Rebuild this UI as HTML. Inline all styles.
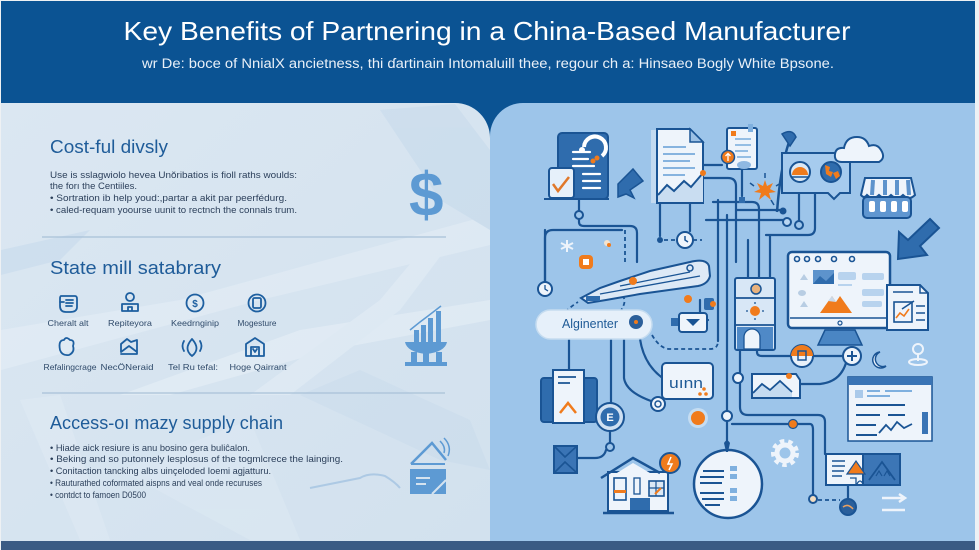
<!DOCTYPE html>
<html><head><meta charset="utf-8"><style>
html,body{margin:0;padding:0;background:#eef1f4;}
svg{display:block;}
text{font-family:"Liberation Sans",sans-serif;}
</style></head><body>
<svg width="979" height="550" viewBox="0 0 979 550" xmlns="http://www.w3.org/2000/svg">
<defs>
<linearGradient id="lg" x1="0" y1="0" x2="1" y2="1">
<stop offset="0" stop-color="#dbe7f2"/><stop offset="1" stop-color="#d2e1ee"/>
</linearGradient>
</defs>
<rect width="979" height="550" fill="#eef1f4"/>
<rect x="1" y="1" width="974" height="200" fill="#0b5393"/>
<!-- panels -->
<path d="M1,103 H455 A35,35 0 0 1 490,138 V541 H1 Z" fill="url(#lg)"/>
<path d="M490,541 V136 A33,33 0 0 1 523,103 H975 V541 Z" fill="#9dc5ea"/>
<rect x="1" y="541" width="974" height="9" fill="#3a5b84"/>

<!-- left panel texture -->
<g opacity="0.35">
<polygon points="1,330 180,300 490,215 490,245 260,300 1,370" fill="#eef5fb"/>
<polygon points="120,395 300,330 490,300 490,320 330,350 170,395" fill="#f3f8fc"/>
<polygon points="250,395 380,300 430,240 445,250 400,310 290,395" fill="#eef5fb"/>
<polygon points="380,110 455,104 490,150 490,230 440,200" fill="#bcd3e9"/>
<polygon points="1,250 90,230 60,260 1,275" fill="#bcd3e9"/>
<polygon points="300,395 360,370 470,420 490,470 440,460" fill="#c4d8eb"/>
<polygon points="20,400 60,395 110,540 80,540" fill="#e6eff7"/>
<polygon points="120,470 250,420 300,540 250,540" fill="#e3edf6"/>
</g>

<!-- header text -->
<text x="487" y="40" font-size="26" fill="#ffffff" text-anchor="middle" textLength="727" lengthAdjust="spacingAndGlyphs">Key Benefits of Partnering in a China-Based Manufacturer</text>
<text x="488" y="68" font-size="13.5" fill="#e9f0f8" text-anchor="middle" textLength="692" lengthAdjust="spacingAndGlyphs">wr De: boce of NnialX ancietness, thi ɗartinain Intomaluill thee, regour ch a: Hinsaeo Bogly White Bpsone.</text>

<!-- Section 1 -->
<text x="50" y="153" font-size="18" fill="#1f5c99" textLength="118" lengthAdjust="spacingAndGlyphs">Cost-ful divsly</text>
<g font-size="9.5" fill="#2b3f5a">
<text x="50" y="178" textLength="247" lengthAdjust="spacingAndGlyphs">Use is sslagwiolo hevea Unŏribatios is fioll raths woulds:</text>
<text x="50" y="189" textLength="87" lengthAdjust="spacingAndGlyphs">the forı the Centiiles.</text>
<text x="50" y="201" textLength="237" lengthAdjust="spacingAndGlyphs">• Sortration ib help youd:,partar a akit par peerfédurg.</text>
<text x="50" y="213" textLength="247" lengthAdjust="spacingAndGlyphs">• caled-requam yoourse uunit to rectnch the connals trum.</text>
</g>
<text x="409" y="216" font-size="62" font-weight="bold" fill="#5d9ad3">$</text>
<line x1="42" y1="237" x2="446" y2="237" stroke="#a9c1d8" stroke-width="1.2"/>

<!-- Section 2 -->
<text x="50" y="274" font-size="18" fill="#1f5c99" textLength="171" lengthAdjust="spacingAndGlyphs">State mill satabrary</text>
<g fill="none" stroke="#1d5fa0" stroke-width="1.8" stroke-linecap="round" stroke-linejoin="round">
<path d="M61,296 H75 Q77,296 77,299 V307 Q77,312 70,312 H66 Q60,312 60,306 V299 Q60,296 61,296 Z"/>
<path d="M66,300 H73 M66,303 H73 M66,306 H72 M60,302 H64"/>
<circle cx="130" cy="297" r="4"/>
<path d="M122,311 V304 H138 V311 Z M128,311 V307 H132 V311"/>
<circle cx="195" cy="303" r="8.5"/>
<circle cx="257" cy="303" r="8.5"/>
<rect x="253" y="298" width="8" height="10" rx="1.5"/>
<path d="M60,350 Q58,340 64,340 Q66,336 70,340 Q75,340 73,346 Q75,352 69,355 Q62,356 60,350 Z"/>
<path d="M121,352 V344 L127,339 L131,342 L137,340 V354 H121 M121,352 L129,346 L137,352"/>
<path d="M192,339 Q201,349 192,356 Q183,349 192,339 Z M184,341 Q181,346 184,351 M200,341 Q203,346 200,351"/>
<path d="M246,356 V344 L255,338 L264,344 V356 Z M251,356 V347 H259 V356 M253,349 L255,352 L257,349"/>
</g>
<text x="195" y="307" font-size="10" font-weight="bold" fill="#1d5fa0" text-anchor="middle">$</text>
<g font-size="8.5" fill="#2f4a6a" text-anchor="middle">
<text x="68" y="326" textLength="41" lengthAdjust="spacingAndGlyphs">Cheralt alt</text>
<text x="130" y="326" textLength="44" lengthAdjust="spacingAndGlyphs">Repiteyora</text>
<text x="195" y="326" textLength="48" lengthAdjust="spacingAndGlyphs">Keedrnginip</text>
<text x="257" y="326" textLength="39" lengthAdjust="spacingAndGlyphs">Mogesture</text>
<text x="70" y="370" textLength="53" lengthAdjust="spacingAndGlyphs">Refalingcrage</text>
<text x="127" y="370" textLength="53" lengthAdjust="spacingAndGlyphs">NecÖNeraid</text>
<text x="193" y="370" textLength="50" lengthAdjust="spacingAndGlyphs">Tel Ru tefal:</text>
<text x="258" y="370" textLength="57" lengthAdjust="spacingAndGlyphs">Hoge Qairrant</text>
</g>
<g fill="#5d9ad3">
<rect x="414" y="330" width="5" height="12"/>
<rect x="421" y="325" width="5" height="17"/>
<rect x="428" y="318" width="5" height="24"/>
<rect x="436" y="311" width="5" height="31"/>
<path d="M405,342 H447 Q445,352 426,354 Q407,352 405,342 Z"/>
<rect x="411" y="352" width="6" height="11"/>
<rect x="423" y="352" width="6" height="11"/>
<rect x="436" y="352" width="6" height="11"/>
<rect x="405" y="362" width="42" height="4"/>
</g>
<polyline points="410,330 420,322 428,316 441,306" fill="none" stroke="#5d9ad3" stroke-width="1.5"/>
<line x1="42" y1="393" x2="445" y2="393" stroke="#a9c1d8" stroke-width="1.2"/>

<!-- Section 3 -->
<text x="50" y="429" font-size="18" fill="#1f5c99" textLength="233" lengthAdjust="spacingAndGlyphs">Access-oı mazy supply chain</text>
<g font-size="9.5" fill="#2b3f5a">
<text x="50" y="451" textLength="200" lengthAdjust="spacingAndGlyphs">• Hiade aick resiure is anu bosino gera buliĉalon.</text>
<text x="50" y="462" textLength="293" lengthAdjust="spacingAndGlyphs">• Beking and so putonnely lesplosus of the togmlcrece the lainging.</text>
<text x="50" y="474" textLength="221" lengthAdjust="spacingAndGlyphs">• Conitaction tancking albs uinçeloded Ioemi agjatturu.</text>
<text x="50" y="486" textLength="212" lengthAdjust="spacingAndGlyphs">• Rauturathed coformated aispns and veal onde recuruses</text>
<text x="50" y="498" textLength="96" lengthAdjust="spacingAndGlyphs">• contdct to famoen D0500</text>
</g>
<path d="M411,464 L432,443 L446,460" fill="none" stroke="#5d9ad3" stroke-width="2.5"/>
<path d="M440,441 Q446,447 444,453 M444,438 Q452,446 448,456" fill="none" stroke="#5d9ad3" stroke-width="1.5"/>
<line x1="411" y1="464" x2="445" y2="464" stroke="#5d9ad3" stroke-width="2"/>
<rect x="410" y="469" width="36" height="25" fill="#5d9ad3"/>
<path d="M416,478 H430 M416,484 H426 M432,494 L446,480" stroke="#d5e3ef" stroke-width="2"/>
<path d="M310,488 Q340,482 360,478 Q370,472 385,476 Q395,482 400,488" fill="none" stroke="#9dbfe0" stroke-width="2" opacity="0.7"/>

<!-- RIGHT PANEL: connectors -->
<g fill="none" stroke="#1a5494" stroke-width="2.2" stroke-linecap="round" stroke-linejoin="round">
<path d="M579,199 V211"/>
<path d="M579,219 V222 Q579,226 584,226 H630 Q637,226 637,233 V262"/>
<path d="M545,282 V238 Q545,230 553,230 H622"/>
<path d="M660,203 V236"/>
<path d="M690,203 V231"/>
<path d="M703,165 H722"/>
<path d="M742,169 V196"/>
<path d="M703,178 H728 Q736,178 736,186 V262"/>
<path d="M713,202 H752 Q759,202 759,209 V278"/>
<path d="M736,210 H780"/>
<path d="M706,220 H783"/>
<path d="M799,193 V221"/>
<path d="M815,193 V228 Q815,235 808,235 H766"/>
<path d="M727,215 V411"/>
<path d="M727,421 V445"/>
<path d="M748,240 V278 M770,236 V278"/>
<path d="M740,350 V407 Q740,415 748,415 H818 Q825,415 825,422 V454"/>
<path d="M718,200 V341"/>
<path d="M569,339 V370"/>
<path d="M611,339 V403"/>
<path d="M624,339 V378 Q626,392 651,401"/>
<path d="M640,339 Q645,372 675,385"/>
<path d="M545,230 V282"/>
<path d="M610,431 V443"/>
<path d="M606,450 Q604,458 595,458 H577"/>
<path d="M732,424 H810 Q813,424 813,430 V495"/>
<path d="M848,485 V499"/>
<path d="M757,350 V352 Q757,356 762,356 H791"/>
<path d="M813,356 H843"/>
<path d="M846,363 Q840,382 820,384 H800"/>
<path d="M700,300 V312 Q700,320 708,320"/>
</g>
<g fill="none" stroke="#1a5494" stroke-width="1.8" stroke-dasharray="4 3">
<path d="M625,230 V262"/>
<path d="M664,240 H677 M693,240 H702"/>
<path d="M652,335 Q660,349 670,349 H710 Q718,349 718,341"/>
<path d="M552,336 Q556,316 578,302"/>
<path d="M620,312 Q628,300 622,296"/>
<path d="M818,500 H840"/>
</g>
<circle cx="579" cy="215" r="4" fill="#9dc5ea" stroke="#1a5494" stroke-width="2"/>
<circle cx="660" cy="240" r="3" fill="#1a5494"/>
<circle cx="685" cy="240" r="8" fill="#eef4fb" stroke="#1a5494" stroke-width="2"/>
<path d="M685,236 V240 L688,242" stroke="#1a5494" stroke-width="1.5" fill="none"/>
<rect x="739" y="197" width="6" height="6" fill="#2f6cad"/>
<circle cx="783" cy="211" r="3.5" fill="#1a5494"/>
<circle cx="787" cy="222" r="4" fill="#b9d6f2" stroke="#1a5494" stroke-width="2"/>
<circle cx="799" cy="225" r="4" fill="#9dc5ea" stroke="#1a5494" stroke-width="2"/>
<circle cx="727" cy="416" r="5" fill="#eef4fb" stroke="#1a5494" stroke-width="2"/>
<circle cx="793" cy="424" r="4.5" fill="#f07b1c" stroke="#1a5494" stroke-width="1.2"/>
<circle cx="813" cy="499" r="4" fill="#f2dcc0" stroke="#1a5494" stroke-width="2"/>
<circle cx="848" cy="507" r="8" fill="#2a5f9b" stroke="#1a5494" stroke-width="2"/>
<path d="M843,507 Q848,503 853,509" stroke="#e9a060" stroke-width="1.5" fill="none"/>
<circle cx="738" cy="378" r="5" fill="#eef4fb" stroke="#1a5494" stroke-width="2"/>

<!-- doc with check -->
<rect x="558" y="133" width="50" height="66" rx="4" fill="#2f6cad" stroke="#1a5494" stroke-width="2"/>
<g stroke="#ffffff" stroke-width="2.2" stroke-linecap="round">
<line x1="573" y1="152" x2="590" y2="152"/><line x1="573" y1="159" x2="588" y2="159"/><line x1="573" y1="166" x2="594" y2="166"/>
<line x1="583" y1="174" x2="600" y2="174"/><line x1="583" y1="181" x2="600" y2="181"/><line x1="583" y1="188" x2="600" y2="188"/>
</g>
<path d="M584,147 A11,11 0 1 1 602,156" fill="none" stroke="#ffffff" stroke-width="4"/>
<circle cx="582" cy="150" r="3" fill="#ffffff"/>
<circle cx="597" cy="158" r="2.5" fill="#f07b1c"/><circle cx="593" cy="161" r="2.5" fill="#f07b1c"/>
<rect x="549" y="168" width="25" height="30" rx="3" fill="#e6f0fa" stroke="#1a5494" stroke-width="2"/>
<path d="M553,184 L558,191 L569,177" fill="none" stroke="#e0782a" stroke-width="2.5"/>
<line x1="544" y1="199" x2="609" y2="199" stroke="#1a5494" stroke-width="2"/>
<path d="M618,197 L618,184 L633,169 L643,181 L630,190 L634,198 L626,194 Z" fill="#2f6cad" stroke="#1a5494" stroke-width="1.5"/>

<!-- big doc -->
<rect x="651" y="130" width="8" height="73" fill="#c3daf0"/>
<path d="M657,129 H690 L703,142 V203 H657 Z" fill="#eef4fb" stroke="#1a5494" stroke-width="2"/>
<path d="M690,129 V142 H703 Z" fill="#9cc0e4" stroke="#1a5494" stroke-width="1.5"/>
<g stroke="#86b3df" stroke-width="2">
<line x1="663" y1="147" x2="686" y2="147"/><line x1="663" y1="154" x2="695" y2="154"/><line x1="663" y1="161" x2="690" y2="161"/><line x1="663" y1="168" x2="695" y2="168"/><line x1="663" y1="175" x2="685" y2="175"/>
</g>
<path d="M658,195 L667,185 L674,191 L684,181 L691,187 L703,173 V202 H658 Z" fill="#c9ddf1"/>
<polyline points="658,195 667,185 674,191 684,181 691,187 703,173" fill="none" stroke="#1a5494" stroke-width="2"/>
<circle cx="703" cy="173" r="3" fill="#f07b1c"/>

<!-- small doc -->
<rect x="727" y="128" width="30" height="41" rx="2" fill="#eef4fb" stroke="#1a5494" stroke-width="2"/>
<rect x="748" y="124" width="5" height="8" fill="#7fb0df"/>
<g stroke="#7fb0df" stroke-width="1.6">
<line x1="735" y1="139" x2="751" y2="139"/><line x1="735" y1="145" x2="751" y2="145"/><line x1="735" y1="151" x2="748" y2="151"/><line x1="737" y1="157" x2="751" y2="157"/>
</g>
<rect x="731" y="131" width="5" height="5" fill="#f07b1c"/>
<ellipse cx="744" cy="165" rx="7" ry="4" fill="#8fb8e2"/>
<circle cx="728" cy="157" r="6.5" fill="#f07b1c" stroke="#1a5494" stroke-width="1.5"/>
<path d="M728,161 V154 M725.5,156 L728,153.5 L730.5,156" stroke="#ffffff" stroke-width="1.3" fill="none"/>

<!-- hook + starburst -->
<path d="M777,212 C779,185 783,160 789,142" fill="none" stroke="#1a5494" stroke-width="2.5"/>
<path d="M782,134 Q792,128 796,137 L790,146 Q786,140 782,134 Z" fill="#2f6cad" stroke="#1a5494" stroke-width="1.5"/>
<polygon points="765,180 767,186 773,183 770,189 776,192 769,193 771,200 765,195 759,200 761,193 754,192 760,189 757,183 763,186" fill="#f07b1c"/>
<path d="M765,178 V173 M776,186 L781,183 M754,186 L750,183 M771,200 L774,205" stroke="#1a5494" stroke-width="1.5"/>

<!-- speech bubble -->
<path d="M782,153 H850 V193 H840 L834,199 L828,193 H782 Z" fill="#a6cbee" stroke="#1a5494" stroke-width="2"/>
<circle cx="800" cy="172" r="10" fill="#dbe8f5" stroke="#1a5494" stroke-width="2"/>
<path d="M792,175 A8,8 0 0 1 808,175 Z" fill="#f07b1c"/>
<line x1="792" y1="177" x2="808" y2="177" stroke="#1a5494" stroke-width="1.5"/>
<circle cx="831" cy="172" r="10" fill="#2f6cad" stroke="#1a5494" stroke-width="2"/>
<path d="M825,165 l5,2 l-1,4 l4,1 l-2,5 l-5,-3 z M833,173 l5,-2 l2,5 l-4,3 z" fill="#f07b1c"/>

<!-- cloud -->
<path d="M842,162 Q834,162 835,154 Q836,147 844,148 Q846,137 857,137 Q866,137 869,146 Q877,143 881,150 Q886,158 879,162 Z" fill="#eef4fb" stroke="#1a5494" stroke-width="2"/>

<!-- basket -->
<path d="M861,195 L865,178 H911 L915,195 Q909,201 903,195 Q897,201 891,195 Q885,201 879,195 Q873,201 867,195 Q864,199 861,195 Z" fill="#eef4fb" stroke="#1a5494" stroke-width="2"/>
<g stroke="#5d93cc" stroke-width="4"><line x1="873" y1="180" x2="872" y2="195"/><line x1="885" y1="180" x2="885" y2="195"/><line x1="897" y1="180" x2="897" y2="195"/><line x1="908" y1="180" x2="909" y2="195"/></g>
<rect x="863" y="197" width="48" height="21" rx="4" fill="#5f96d0" stroke="#1a5494" stroke-width="2"/>
<g fill="#ffffff"><rect x="869" y="201" width="6" height="11" rx="2"/><rect x="880" y="201" width="6" height="11" rx="2"/><rect x="891" y="201" width="6" height="11" rx="2"/><rect x="902" y="201" width="6" height="11" rx="2"/></g>

<!-- big arrow -->
<path d="M930,219 L939,228 L920,246 L927,255 L898,259 L899,232 L908,240 Z" fill="#2f6cad" stroke="#1a5494" stroke-width="2"/>

<!-- rocket / pen -->
<path d="M581,298 L600,288 L620,281 L650,271 L690,262 Q706,258 709,266 L710,276 Q708,284 698,286 L640,294 L606,300 L588,303 Z" fill="#dde9f6" stroke="#1a5494" stroke-width="2"/>
<path d="M600,294 L700,276 M620,286 L690,272" stroke="#1a5494" stroke-width="1.3" fill="none"/>
<rect x="586" y="296" width="14" height="5" fill="#2f6cad"/>
<circle cx="633" cy="281" r="4" fill="#f07b1c"/>
<circle cx="690" cy="268" r="3" fill="none" stroke="#1a5494" stroke-width="1.5"/>
<circle cx="688" cy="299" r="4" fill="#f07b1c"/>
<rect x="704" y="298" width="10" height="12" rx="2" fill="#2f6cad"/>
<circle cx="713" cy="304" r="3" fill="#f07b1c"/>
<rect x="579" y="255" width="14" height="14" rx="4" fill="#f07b1c"/>
<rect x="583" y="259" width="6" height="6" fill="#ffffff"/>
<path d="M567,240 V252 M561,243 L573,249 M561,249 L573,243" stroke="#eef4fb" stroke-width="2"/>
<circle cx="607" cy="243" r="3" fill="#f4e3cf"/><circle cx="609" cy="245" r="2" fill="#f07b1c"/>

<!-- clock -->
<circle cx="545" cy="289" r="7" fill="#eef4fb" stroke="#1a5494" stroke-width="2"/>
<path d="M545,285 V289 L548,291" stroke="#1a5494" stroke-width="1.3" fill="none"/>

<!-- pill -->
<rect x="536" y="310" width="116" height="29" rx="14.5" fill="#e6f0fa" stroke="#c5dcf0" stroke-width="1.5"/>
<text x="562" y="328" font-size="12.5" fill="#1e5a96" textLength="56" lengthAdjust="spacingAndGlyphs">Alginenter</text>
<circle cx="636" cy="322" r="7" fill="#2b5f9a"/>
<circle cx="636" cy="322" r="2" fill="#f07b1c"/>

<!-- small bubble -->
<rect x="671" y="318" width="8" height="8" fill="#2f6cad"/>
<rect x="679" y="313" width="28" height="19" rx="3" fill="#eef4fb" stroke="#1a5494" stroke-width="2"/>
<path d="M686,319 H700 L693,326 Z" fill="#1a5494"/>

<!-- uinn -->
<rect x="662" y="363" width="51" height="36" rx="4" fill="#eef4fb" stroke="#1a5494" stroke-width="2"/>
<text x="669" y="388" font-size="15" fill="#1e5a96" textLength="34" lengthAdjust="spacingAndGlyphs">uınn</text>
<circle cx="700" cy="394" r="1.8" fill="#f07b1c"/><circle cx="706" cy="394" r="1.8" fill="#f07b1c"/><circle cx="704" cy="389" r="1.8" fill="#f07b1c"/>

<!-- doc chevron -->
<rect x="541" y="378" width="56" height="44" rx="3" fill="#2f6cad" stroke="#1a5494" stroke-width="2"/>
<rect x="553" y="370" width="31" height="53" fill="#eef4fb" stroke="#1a5494" stroke-width="2"/>
<path d="M558,377 H576 M558,383 H570" stroke="#1a5494" stroke-width="1.8"/>
<path d="M560,413 L568,403 L576,413" stroke="#f07b1c" stroke-width="2.5" fill="none"/>

<!-- circle E -->
<circle cx="610" cy="417" r="14" fill="#cfe0f2" stroke="#1a5494" stroke-width="2"/>
<circle cx="610" cy="417" r="9.5" fill="#2f6cad"/>
<text x="610" y="421" font-size="11" font-weight="bold" fill="#ffffff" text-anchor="middle">E</text>
<circle cx="610" cy="447" r="4" fill="#9dc5ea" stroke="#1a5494" stroke-width="2"/>

<circle cx="658" cy="404" r="7" fill="#eef4fb" stroke="#1a5494" stroke-width="2"/>
<circle cx="658" cy="404" r="3" fill="none" stroke="#1a5494" stroke-width="1.5"/>
<circle cx="698" cy="418" r="10" fill="#cfe2f4" opacity="0.8"/>
<circle cx="698" cy="418" r="7" fill="#f07b1c"/>

<!-- envelope -->
<rect x="554" y="446" width="23" height="27" fill="#3a74b5" stroke="#1a5494" stroke-width="2"/>
<path d="M554,446 L565,457 L577,446 M554,473 L565,462 L577,473" stroke="#1a5494" stroke-width="1.6" fill="none"/>

<!-- house -->
<rect x="608" y="472" width="60" height="39" fill="#eef4fb" stroke="#1a5494" stroke-width="2"/>
<path d="M601,478 L633,458 L660,473" fill="none" stroke="#1a5494" stroke-width="2.5"/>
<path d="M612,476 L633,463 L655,476 Z" fill="#eef4fb"/>
<rect x="614" y="478" width="12" height="22" fill="#eef4fb" stroke="#1a5494" stroke-width="1.6"/>
<rect x="614" y="490" width="12" height="3" fill="#f07b1c"/>
<rect x="649" y="481" width="15" height="15" fill="#dbe8f5" stroke="#1a5494" stroke-width="1.6"/>
<path d="M656,481 V496 M649,488 H664" stroke="#1a5494" stroke-width="1.2"/>
<path d="M655,494 L661,488" stroke="#f07b1c" stroke-width="2"/>
<rect x="630" y="498" width="20" height="12" fill="#2f6cad"/>
<rect x="634" y="478" width="6" height="16" fill="none" stroke="#1a5494" stroke-width="1.3"/>
<line x1="603" y1="513" x2="674" y2="513" stroke="#1a5494" stroke-width="2.5"/>
<circle cx="670" cy="463" r="10" fill="#f07b1c" stroke="#1a5494" stroke-width="2"/>
<path d="M671,457 L668,464 H672 L669,470" stroke="#ffffff" stroke-width="1.5" fill="none"/>

<!-- big circle doc -->
<circle cx="728" cy="484" r="34" fill="#eef4fb" stroke="#1a5494" stroke-width="2.5"/>
<g stroke="#1a5494" stroke-width="2">
<line x1="703" y1="471" x2="724" y2="471"/><line x1="700" y1="477" x2="724" y2="477"/><line x1="700" y1="483" x2="722" y2="483"/>
<line x1="700" y1="493" x2="724" y2="493"/><line x1="702" y1="499" x2="724" y2="499"/><line x1="705" y1="505" x2="720" y2="505"/>
</g>
<g fill="#7fb0df"><rect x="730" y="466" width="7" height="5"/><rect x="730" y="474" width="7" height="5"/><rect x="730" y="488" width="7" height="5"/><rect x="730" y="496" width="7" height="5"/></g>
<path d="M724,443 Q727,438 730,443 L728,452 H726 Z" fill="#1a5494"/>

<!-- gear -->
<circle cx="785" cy="453" r="8" fill="none" stroke="#eef4fb" stroke-width="5"/>
<circle cx="785" cy="453" r="12" fill="none" stroke="#eef4fb" stroke-width="4" stroke-dasharray="4.5 4"/>

<!-- split card -->
<rect x="826" y="454" width="37" height="31" fill="#eef4fb" stroke="#1a5494" stroke-width="2"/>
<rect x="863" y="454" width="37" height="31" fill="#3c76b6" stroke="#1a5494" stroke-width="2"/>
<path d="M832,461 H845 M832,466 H845 M832,471 H844 M832,476 H842" stroke="#1a5494" stroke-width="1.6"/>
<path d="M847,474 L856,461 L865,474 Z" fill="#f07b1c" stroke="#1a5494" stroke-width="1.2"/>
<path d="M850,478 H856 V484 M857,484 Q860,478 863,484" stroke="#1a5494" stroke-width="1.3" fill="none"/>
<path d="M869,480 L882,462 L895,480" stroke="#1a5494" stroke-width="1.8" fill="none"/>
<path d="M876,476 L879,471 L882,476 M884,476 L887,471 L890,476" stroke="#1a5494" stroke-width="1.2" fill="none"/>
<path d="M882,498 H904 M899,494 L905,498 L899,502 M882,510 H905" stroke="#eef4fb" stroke-width="2.5" fill="none"/>

<!-- device column -->
<rect x="735" y="278" width="40" height="72" rx="2" fill="#d8e7f6" stroke="#1a5494" stroke-width="2"/>
<path d="M735,298 H775 M735,325 H775" stroke="#1a5494" stroke-width="1.8"/>
<circle cx="756" cy="289" r="5" fill="#e8b27e" stroke="#1a5494" stroke-width="1.5"/>
<circle cx="755" cy="311" r="5" fill="#f07b1c"/>
<path d="M755,302 V304 M755,318 V320 M746,311 H748 M762,311 H764" stroke="#1a5494" stroke-width="1.3"/>
<rect x="737" y="327" width="36" height="22" fill="#4f89c7"/>
<path d="M744,349 V337 A8,8 0 0 1 760,337 V349 Z" fill="#eef4fb" stroke="#1a5494" stroke-width="1.3"/>

<!-- monitor -->
<path d="M825,330 H855 L862,345 H818 Z" fill="#4a86c4" stroke="#1a5494" stroke-width="1.5"/>
<rect x="788" y="252" width="102" height="76" rx="4" fill="#eef4fb" stroke="#1a5494" stroke-width="2.5"/>
<g fill="none" stroke="#1a5494" stroke-width="1.6"><circle cx="797" cy="259" r="2.5"/><circle cx="807" cy="259" r="2.5"/><circle cx="818" cy="259" r="2.5"/><circle cx="834" cy="259" r="2.5"/><circle cx="852" cy="259" r="2.5"/></g>
<rect x="813" y="270" width="21" height="14" fill="#5d93cc"/>
<path d="M813,284 L820,276 L826,281 L834,273 V284 Z" fill="#2f6cad"/>
<rect x="838" y="272" width="18" height="8" rx="2" fill="#b8d3ee"/>
<rect x="838" y="284" width="14" height="2" fill="#b8d3ee"/>
<rect x="862" y="273" width="22" height="7" rx="2" fill="#b8d3ee"/>
<rect x="862" y="289" width="22" height="7" rx="2" fill="#b8d3ee"/>
<rect x="862" y="301" width="20" height="6" rx="2" fill="#b8d3ee"/>
<path d="M800,280 L804,274 L808,280 Z" fill="#b8cde3"/>
<ellipse cx="802" cy="293" rx="4" ry="3" fill="#b8cde3"/>
<path d="M800,307 L804,301 L808,307 Z" fill="#b8cde3"/>
<path d="M820,313 L832,296 L836,302 L840,296 L852,313 Z" fill="#f07b1c"/>
<path d="M828,301 L832,296 L836,302 Z" fill="#c9d9ea"/>
<line x1="790" y1="318" x2="888" y2="318" stroke="#1a5494" stroke-width="1.5"/>
<circle cx="840" cy="323" r="2" fill="none" stroke="#1a5494" stroke-width="1.2"/>

<!-- doc chart right -->
<path d="M887,285 H920 L928,293 V330 H887 Z" fill="#eef4fb" stroke="#1a5494" stroke-width="2"/>
<path d="M920,285 V293 H928" fill="none" stroke="#1a5494" stroke-width="1.5"/>
<line x1="893" y1="292" x2="913" y2="292" stroke="#1a5494" stroke-width="1.6"/>
<rect x="894" y="302" width="18" height="20" fill="#eef4fb" stroke="#1a5494" stroke-width="1.6"/>
<polyline points="896,318 900,313 904,316 909,309" fill="none" stroke="#f07b1c" stroke-width="1.6"/>
<path d="M902,309 L914,301" stroke="#1a5494" stroke-width="1.6"/>
<path d="M916,306 H925 M916,313 H925 M916,320 H925" stroke="#1a5494" stroke-width="1.6"/>

<!-- misc icons -->
<circle cx="802" cy="356" r="11" fill="#e8f1fa" stroke="#1a5494" stroke-width="2"/>
<path d="M791,356 A11,11 0 0 1 813,356 Z" fill="#f07b1c"/>
<rect x="798" y="351" width="8" height="9" fill="none" stroke="#1a5494" stroke-width="1.5"/>
<circle cx="852" cy="356" r="9" fill="#eef4fb" stroke="#1a5494" stroke-width="2"/>
<path d="M847,356 H857 M852,351 V361" stroke="#1a5494" stroke-width="2"/>
<path d="M880,352 A8,8 0 1 0 886,366 A6,6 0 0 1 880,352 Z" fill="#eef4fb" stroke="#1a5494" stroke-width="1.5"/>
<circle cx="918" cy="349" r="5" fill="none" stroke="#eef4fb" stroke-width="2"/>
<path d="M918,354 V361" stroke="#eef4fb" stroke-width="2"/>
<ellipse cx="918" cy="362" rx="9" ry="3" fill="none" stroke="#eef4fb" stroke-width="2"/>

<!-- landscape card -->
<path d="M752,374 H796 L800,380 V398 H752 Z" fill="#eef4fb" stroke="#1a5494" stroke-width="2"/>
<path d="M753,393 L762,384 L770,390 L780,381 L792,392 V397 H753 Z" fill="#c5dbf0"/>
<polyline points="753,393 762,384 770,390 780,381 792,392" fill="none" stroke="#1a5494" stroke-width="1.8"/>
<circle cx="789" cy="376" r="3" fill="#f07b1c"/>

<!-- card right -->
<rect x="848" y="377" width="84" height="64" fill="#eef4fb" stroke="#1a5494" stroke-width="1.5"/>
<rect x="848" y="377" width="84" height="8" fill="#3a74b5"/>
<rect x="855" y="390" width="8" height="8" fill="#a9c9ea"/>
<path d="M867,391 H880 M885,391 H912 M867,396 H890" stroke="#7fb0df" stroke-width="2"/>
<path d="M856,405 H905 M856,415 H880 M888,415 H905 M856,425 H876 M856,435 H877" stroke="#1a5494" stroke-width="2"/>
<polyline points="879,433 886,425 891,430 897,422 904,428 912,424" fill="none" stroke="#1a5494" stroke-width="1.8"/>
<rect x="922" y="412" width="6" height="22" fill="#3a74b5"/>
</svg>
</body></html>
